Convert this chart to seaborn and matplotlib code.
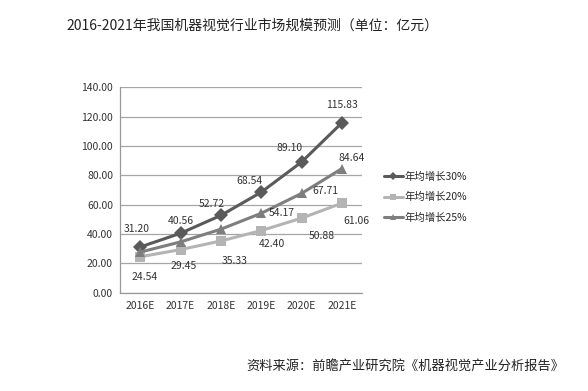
import numpy as np
import pandas as pd
import seaborn as sns
import matplotlib.pyplot as plt

# 数据
years = ["2016E", "2017E", "2018E", "2019E", "2020E", "2021E"]
series_names = ["年均增长30%", "年均增长20%", "年均增长25%"]
growth_30 = [31.20, 40.56, 52.72, 68.54, 89.10, 115.83]
growth_20 = [24.54, 29.45, 35.33, 42.40, 50.88, 61.06]
growth_25 = [27.74, 34.67, 43.34, 54.17, 67.71, 84.64]
y_ticks = [0, 20, 40, 60, 80, 100, 120, 140]

sns.set_theme(style="white")
plt.rcParams['font.family'] = ['Noto Sans CJK SC', 'DejaVu Sans']

df = pd.DataFrame({
    "year": years * 3,
    "value": growth_30 + growth_20 + growth_25,
    "series": [series_names[0]] * 6 + [series_names[1]] * 6 + [series_names[2]] * 6,
})

palette = {series_names[0]: "#5a5a5a", series_names[1]: "#b4b4b4", series_names[2]: "#7e7e7e"}
markers = {series_names[0]: "D", series_names[1]: "s", series_names[2]: "^"}

fig = plt.figure(figsize=(5.88, 3.91), dpi=100)
ax = fig.add_axes([0.204, 0.251, 0.412, 0.526])

sns.lineplot(data=df, x="year", y="value", hue="series", style="series",
             hue_order=series_names, style_order=series_names,
             palette=palette, markers=markers, dashes=False,
             linewidth=2.2, markersize=7, markeredgewidth=0, ax=ax, legend=True)

ax.set_xlim(-0.5, 5.5)
ax.set_ylim(0, 140)
ax.set_yticks(y_ticks)
ax.set_yticklabels([f"{v:.2f}" for v in y_ticks], fontsize=7.5, color="#333333")
ax.set_xticks(range(6))
ax.set_xticklabels(years, fontsize=7.5, color="#333333")
ax.set_xticks(np.arange(-0.5, 6, 1), minor=True)
ax.tick_params(axis="x", which="major", length=0, pad=6)
ax.tick_params(axis="x", which="minor", length=3, color="#999999", direction="out")
ax.tick_params(axis="y", length=3, color="#999999", direction="out", pad=2)
ax.set_xlabel("")
ax.set_ylabel("")
ax.grid(axis="y", color="#a6a6a6", linewidth=0.9)
for s in ["top", "right"]:
    ax.spines[s].set_visible(False)
for s in ["left", "bottom"]:
    ax.spines[s].set_color("#999999")
    ax.spines[s].set_linewidth(0.9)

# 数据标签 (偏移像素)
off_30 = [(-3, 18), (0, 12), (-9, 11), (-12, 11), (-12, 14), (0, 18)]
off_20 = [(5, -20), (3, -16), (14, -20), (11, -13), (20, -18), (14, -18)]
off_25 = {3: (20, 0), 4: (24, 2), 5: (10, 11)}
lab_kw = dict(textcoords="offset pixels", ha="center", va="center", fontsize=7.5, color="#333333")
for i, v in enumerate(growth_30):
    ax.annotate(f"{v:.2f}", (i, v), xytext=off_30[i], **lab_kw)
for i, v in enumerate(growth_20):
    ax.annotate(f"{v:.2f}", (i, v), xytext=off_20[i], **lab_kw)
for i, o in off_25.items():
    ax.annotate(f"{growth_25[i]:.2f}", (i, growth_25[i]), xytext=o, **lab_kw)

handles, labels = ax.get_legend_handles_labels()
ax.get_legend().remove()
fig.legend(handles, labels, loc="upper left", bbox_to_anchor=(0.637, 0.585),
           frameon=False, fontsize=7.5, handlelength=1.8, handletextpad=0.15,
           labelspacing=1.0, markerscale=0.65)

fig.text(0.43, 0.935, "2016-2021年我国机器视觉行业市场规模预测（单位：亿元）",
         ha="center", va="center", fontsize=10, color="#222222")
fig.text(0.96, 0.062, "资料来源：前瞻产业研究院《机器视觉产业分析报告》",
         ha="right", va="center", fontsize=9.5, color="#222222")

fig.savefig("out.png", dpi=100)
